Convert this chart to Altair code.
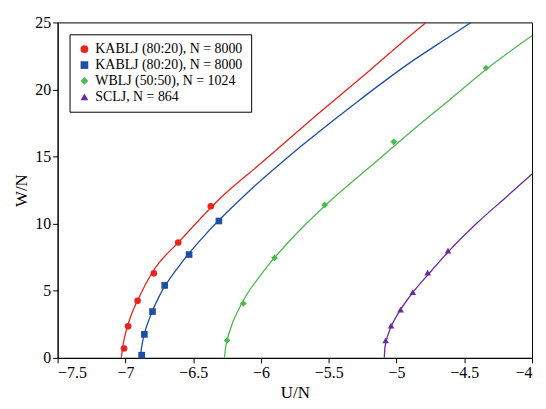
import altair as alt
import pandas as pd

keys = ["a", "b", "c", "d"]
labels = ["KABLJ (80:20), N = 8000", "KABLJ (80:20), N = 8000",
          "WBLJ (50:50), N = 1024", "SCLJ, N = 864"]
colors = ["#e8241c", "#1f4ea6", "#4cba4c", "#6b2b9c"]
shapes = ["circle", "square", "diamond", "triangle-up"]

# marker points
red_u = [-7.01, -6.98, -6.91, -6.79, -6.61, -6.37]
red_w = [0.7, 2.35, 4.25, 6.3, 8.6, 11.3]
blue_u = [-6.88, -6.86, -6.80, -6.71, -6.53, -6.31]
blue_w = [0.2, 1.75, 3.45, 5.4, 7.7, 10.2]
green_u = [-6.25, -6.13, -5.90, -5.53, -5.02, -4.34]
green_w = [1.3, 4.05, 7.45, 11.4, 16.1, 21.6]
purple_u = [-5.08, -5.04, -4.97, -4.88, -4.77, -4.62]
purple_w = [1.3, 2.4, 3.6, 4.9, 6.35, 8.0]

# curves
red_lu = [-7.03, -7.02, -7.0, -6.96, -6.9, -6.8, -6.6, -6.3, -6.0, -5.6, -5.2, -4.9, -4.78]
red_lw = [0.0, 0.8, 1.8, 3.1, 4.5, 6.4, 8.7, 11.9, 14.5, 18.0, 21.4, 24.0, 25.0]
blue_lu = [-6.89, -6.88, -6.86, -6.82, -6.75, -6.6, -6.4, -6.1, -5.7, -5.3, -4.9, -4.6, -4.45]
blue_lw = [0.0, 0.8, 1.8, 3.0, 4.6, 6.9, 9.3, 12.3, 15.8, 19.0, 22.0, 24.0, 25.0]
green_lu = [-6.27, -6.26, -6.23, -6.15, -6.0, -5.8, -5.5, -5.2, -4.9, -4.6, -4.3, -4.0]
green_lw = [0.0, 0.8, 2.0, 3.9, 6.2, 8.6, 11.6, 14.2, 16.8, 19.3, 21.8, 24.0]
purple_lu = [-5.09, -5.085, -5.06, -5.0, -4.9, -4.75, -4.6, -4.4, -4.2, -4.0]
purple_lw = [0.0, 0.8, 1.8, 3.1, 4.6, 6.4, 8.1, 10.1, 11.9, 13.7]

pts = []
for k, us, ws in zip(keys, [red_u, blue_u, green_u, purple_u], [red_w, blue_w, green_w, purple_w]):
    pts += [{"s": k, "u": u, "w": w} for u, w in zip(us, ws)]
lines = []
for k, us, ws in zip(keys, [red_lu, blue_lu, green_lu, purple_lu], [red_lw, blue_lw, green_lw, purple_lw]):
    lines += [{"s": k, "u": u, "w": w, "o": i} for i, (u, w) in enumerate(zip(us, ws))]

label_expr = "{'a':'%s','b':'%s','c':'%s','d':'%s'}[datum.value]" % tuple(labels)
serif = "Liberation Serif"

x = alt.X("u:Q", title="U/N", scale=alt.Scale(domain=[-7.5, -4], nice=False),
          axis=alt.Axis(values=[-7.5, -7, -6.5, -6, -5.5, -5, -4.5, -4], grid=False,
                        labelExpr="replace(format(datum.value, '~g'), '-', '\u2212')",
                        tickColor="black", domainColor="black"))
y = alt.Y("w:Q", title="W/N", scale=alt.Scale(domain=[0, 25], nice=False),
          axis=alt.Axis(values=[0, 5, 10, 15, 20, 25], grid=False,
                        tickColor="black", domainColor="black"))
cscale = alt.Scale(domain=keys, range=colors)
shape_enc = alt.Shape("s:N", scale=alt.Scale(domain=keys, range=shapes), title=None)
leg = alt.Legend(orient="top-left", labelExpr=label_expr, strokeColor="black",
                 padding=8, offset=12, fillColor="white", labelFontSize=14,
                 labelFont=serif, symbolSize=60, symbolStrokeWidth=0)

points = alt.Chart(pd.DataFrame(pts)).mark_point(filled=True, size=45, opacity=1).encode(
    x=x, y=y,
    color=alt.Color("s:N", scale=cscale, title=None, legend=leg),
    shape=shape_enc,
)
line = alt.Chart(pd.DataFrame(lines)).mark_line(
    strokeWidth=1.3, clip=True, interpolate="monotone"
).encode(
    x=x, y=y, order="o:Q",
    color=alt.Color("s:N", scale=cscale, title=None, legend=leg),
)

chart = (points + line).properties(width=478, height=338).configure_view(
    stroke="black", strokeWidth=1
).configure_axis(
    labelFont=serif, titleFont=serif,
    labelFontSize=16, titleFontSize=17, titleFontWeight="normal", labelColor="black",
    titleColor="black"
)

chart.save("out.html", embed_options={"renderer": "svg", "actions": False})
